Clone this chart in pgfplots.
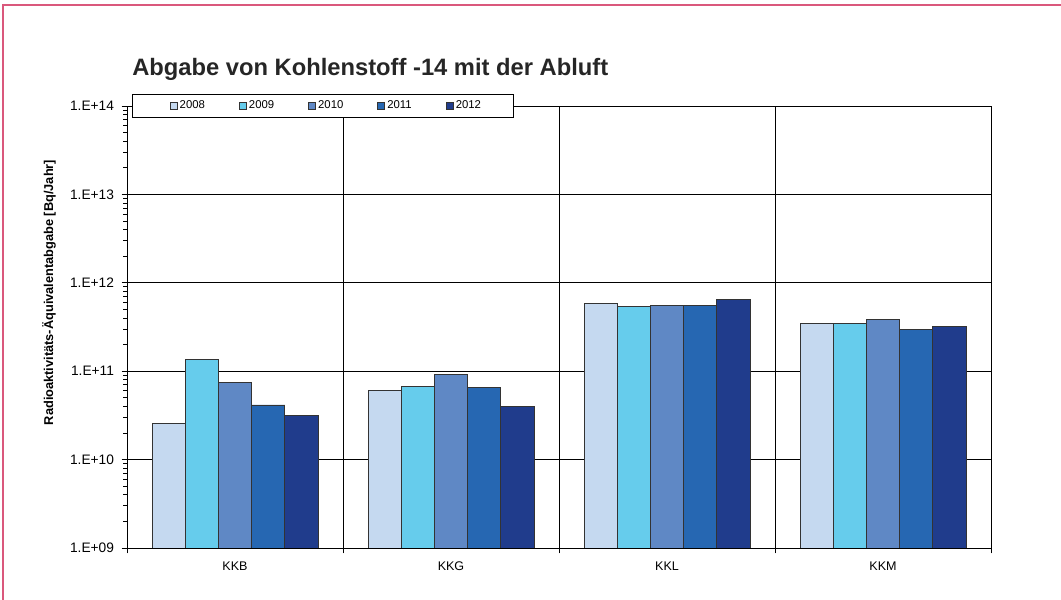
\documentclass[border=0pt]{standalone}
\usepackage{fontspec}
\setmainfont{Liberation Sans}
\usepackage{pgfplots}
\pgfplotsset{compat=1.18}
\definecolor{c08}{RGB}{197,217,240}
\definecolor{c09}{RGB}{102,204,236}
\definecolor{c10}{RGB}{95,136,197}
\definecolor{c11}{RGB}{38,103,178}
\definecolor{c12}{RGB}{32,60,140}
\definecolor{frame}{RGB}{218,88,124}
\begin{document}
\begin{tikzpicture}
\useasboundingbox (0pt,0pt) rectangle (795.75pt,450pt);
\draw[frame, line width=1.5pt] (2.25pt,-10pt) -- (2.25pt,446.5pt) -- (810pt,446.5pt);
\node[anchor=base west, inner sep=0pt, font=\bfseries\fontsize{17.8}{20}\selectfont, text=black!85] at (99pt,393pt) {Abgabe von Kohlenstoff -14 mit der Abluft};
\node[rotate=90, inner sep=0pt, font=\bfseries\fontsize{9.6}{11}\selectfont] at (36.75pt,230.6pt) {Radioaktivitäts-Äquivalentabgabe [Bq/Jahr]};
\begin{axis}[
  at={(95.25pt,39pt)}, anchor=south west,
  scale only axis, width=648pt, height=331.5pt,
  ymode=log, ymin=1e9, ymax=1e14, log origin=infty,
  ytick={1e9,1e10,1e11,1e12,1e13,1e14},
  yticklabels={1.E+09,1.E+10,1.E+11,1.E+12,1.E+13,1.E+14},
  yticklabel style={font=\fontsize{10.3}{11}\selectfont, xshift=-2.25pt},
  xmin=-0.5, xmax=3.5,
  xtick={-0.5,0.5,1.5,2.5,3.5}, xticklabels={},
  extra x ticks={0,1,2,3}, extra x tick labels={KKB,KKG,KKL,KKM},
  extra x tick style={major tick length=0pt, grid=none},
  xticklabel style={font=\fontsize{9.4}{10}\selectfont, text height=6.8pt, text depth=0pt, yshift=-6.5pt},
  xmajorgrids, ymajorgrids,
  grid style={black, line width=0.6pt},
  axis line style={black, line width=0.6pt},
  tick style={black, line width=0.6pt},
  major tick length=4pt, tick align=outside,
  xtick pos=bottom, ytick pos=left,
  ybar=0pt, bar width=24.9pt,
  every axis plot/.append style={draw=black!80, line width=0.6pt},
  legend columns=5,
  legend image code/.code={\path (-5.75pt,0pt); \draw[#1, draw=black!80, line width=0.4pt] (0pt,-2.6pt) rectangle (5.25pt,2.6pt);},
  legend style={at={(rel axis cs:0.0058,1.0271)}, anchor=north west, draw=black, line width=0.6pt,
    font=\fontsize{8.5}{9}\selectfont, inner xsep=22pt, inner ysep=3pt,
    /tikz/every even column/.append style={column sep=17.5pt}},
]
\addplot[fill=c08] coordinates {(0,2.56e10) (1,6.1e10) (2,5.9e11) (3,3.46e11)};
\addplot[fill=c09] coordinates {(0,1.36e11) (1,6.76e10) (2,5.4e11) (3,3.46e11)};
\addplot[fill=c10] coordinates {(0,7.5e10) (1,9.2e10) (2,5.6e11) (3,3.84e11)};
\addplot[fill=c11] coordinates {(0,4.15e10) (1,6.5e10) (2,5.6e11) (3,3.0e11)};
\addplot[fill=c12] coordinates {(0,3.15e10) (1,4.0e10) (2,6.46e11) (3,3.2e11)};
\legend{2008,2009,2010,2011,2012}
\end{axis}
\end{tikzpicture}
\end{document}
